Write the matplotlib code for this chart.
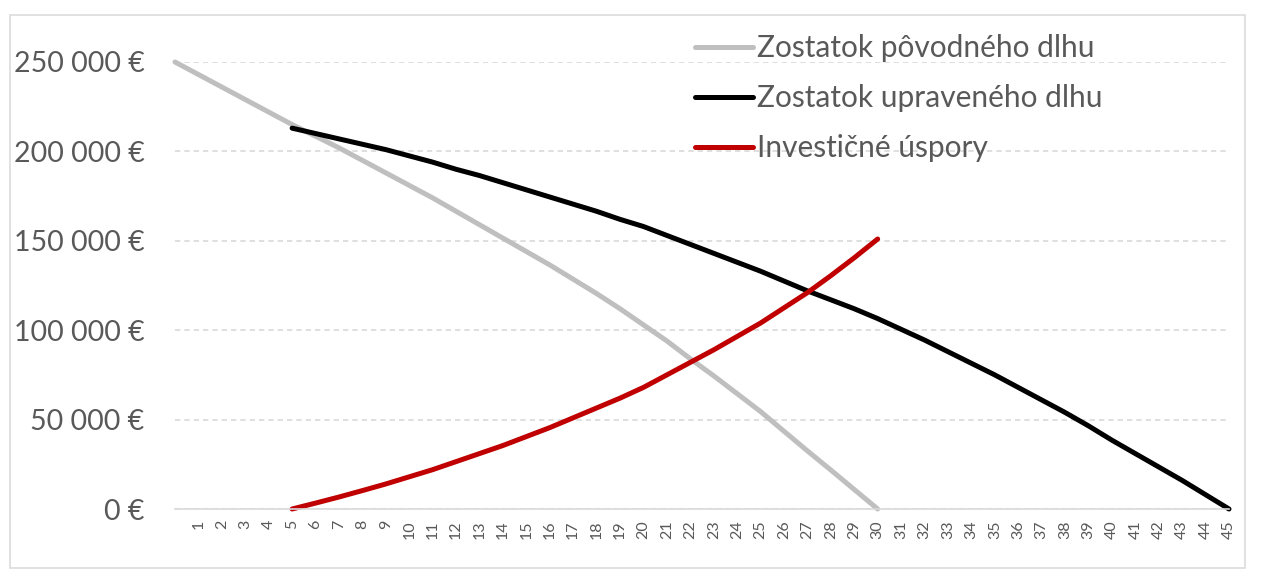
import matplotlib
matplotlib.use("Agg")
import matplotlib.pyplot as plt
from matplotlib.patches import Rectangle
from matplotlib.ticker import FuncFormatter

plt.rcParams["font.family"] = ["Lato", "DejaVu Sans"]

# values (EUR), one point per year
years_orig = list(range(0, 31))
orig_debt = [250000, 243000, 236000, 229000, 222000, 215000, 208500, 202000, 195000, 188000,
             181000, 174000, 166500, 159000, 151500, 144000, 136500, 128500, 120500, 112000,
             103000, 94000, 84000, 74500, 64500, 54500, 43500, 32500, 21800, 10900, 0]

years_new = list(range(5, 46))
new_debt = [213000, 210000, 207000, 204000, 201000, 197500, 194000, 190000, 186500, 182500,
            178500, 174500, 170500, 166500, 162000, 158000, 153000, 148000, 143000, 138000,
            133000, 127500, 122000, 117000, 112000, 106500, 100500, 94500, 88000, 81500,
            75000, 68000, 61000, 54000, 46500, 38500, 31000, 23500, 16000, 8000, 0]

years_inv = list(range(5, 31))
savings = [0, 3300, 6700, 10300, 14000, 18000, 22000, 26500, 31000, 35500,
           40500, 45500, 51000, 56500, 62000, 68000, 75000, 82000, 89000, 96500,
           104000, 112500, 121000, 130500, 140500, 151000]

x_ticks = list(range(1, 46))
y_ticks = [0, 50000, 100000, 150000, 200000, 250000]
labels = ["Zostatok pôvodného dlhu", "Zostatok upraveného dlhu", "Investičné úspory"]
colors = ["#BFBFBF", "#000000", "#C00000"]

W, H = 1262, 583
fig = plt.figure(figsize=(W / 100, H / 100), dpi=100)
fig.patches.append(Rectangle((10 / W, 1 - 568 / H), 1235 / W, 553 / H,
                             transform=fig.transFigure, fill=False,
                             edgecolor="#D9D9D9", linewidth=1.1))

ax = fig.add_axes([175 / W, 1 - 509 / H, (1229 - 175) / W, (509 - 62) / H])

ax.plot(years_orig, orig_debt, color=colors[0], lw=3.6, label=labels[0],
        solid_capstyle="round", clip_on=False)
ax.plot(years_new, new_debt, color=colors[1], lw=3.6, label=labels[1],
        solid_capstyle="round", clip_on=False)
ax.plot(years_inv, savings, color=colors[2], lw=3.6, label=labels[2],
        solid_capstyle="round", clip_on=False)

ax.set_xlim(0, 45)
ax.set_ylim(0, 250000)
ax.set_xticks(x_ticks)
ax.set_xticklabels([str(t) for t in x_ticks], rotation=90, va="top", ha="center")
ax.set_yticks(y_ticks)
ax.yaxis.set_major_formatter(FuncFormatter(lambda v, p: f"{int(v):,} €".replace(",", " ")))

ax.tick_params(axis="x", length=0, pad=8, labelsize=11.5, labelcolor="#595959")
ax.tick_params(axis="y", length=0, pad=22, labelsize=20.5, labelcolor="#595959")

ax.set_axisbelow(True)
ax.yaxis.grid(True, color="#D9D9D9", linewidth=1.2, linestyle=(0, (3.2, 2.4)))
for s in ["top", "right", "left"]:
    ax.spines[s].set_visible(False)
ax.spines["bottom"].set_color("#D9D9D9")
ax.spines["bottom"].set_linewidth(1.2)

leg = ax.legend(loc="upper left", bbox_to_anchor=(695 / W, 1 - 34 / H),
                bbox_transform=fig.transFigure, frameon=False, fontsize=21.5,
                handlelength=1.95, handletextpad=0.13, labelspacing=0.74,
                borderpad=0, borderaxespad=0)
for t in leg.get_texts():
    t.set_color("#595959")

fig.savefig("out.png", dpi=100)
